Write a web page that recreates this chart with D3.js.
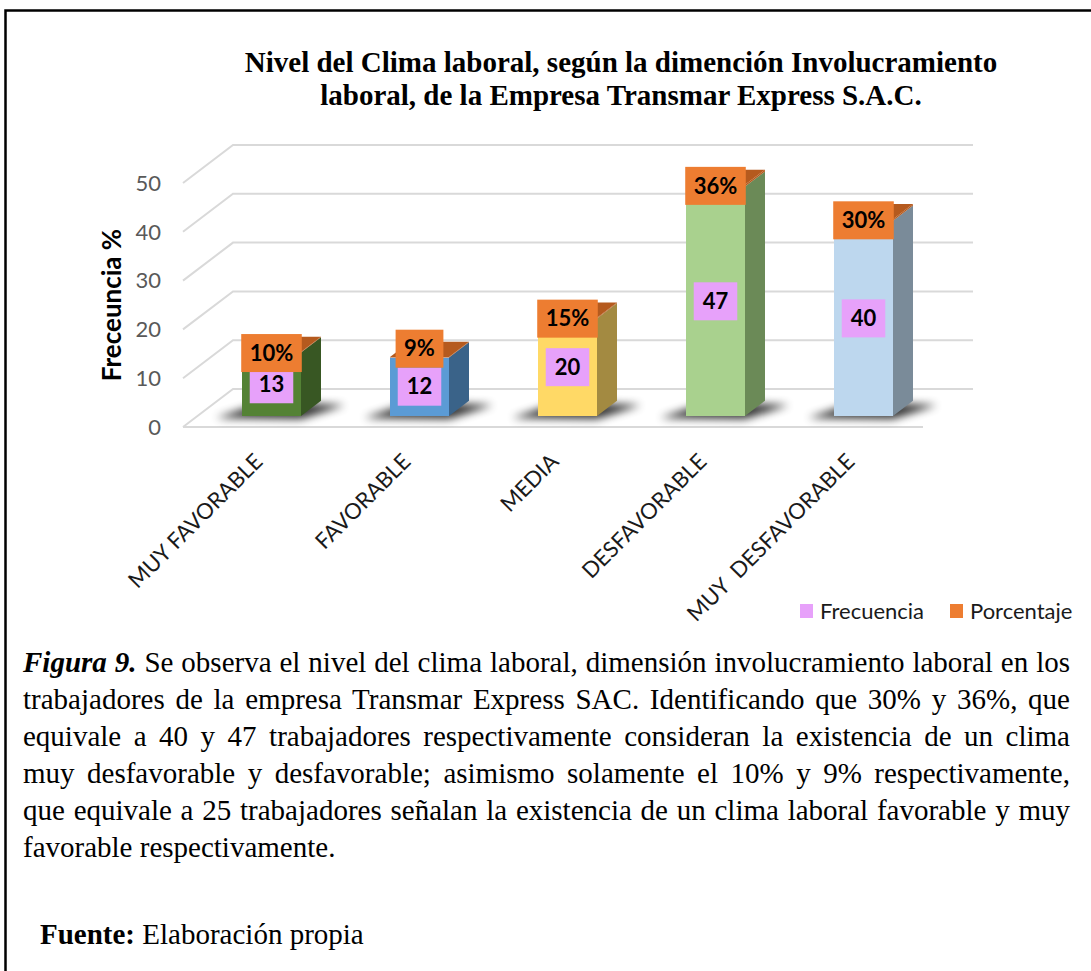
<!DOCTYPE html>
<html>
<head>
<meta charset="utf-8">
<script src="https://cdn.jsdelivr.net/npm/d3@7/dist/d3.min.js"></script>
<style>
  html, body { margin:0; padding:0; background:#fff; }
  #wrap { position:relative; width:1091px; height:971px; overflow:hidden; }
  svg { position:absolute; left:0; top:0; }
  .cap { position:absolute; left:23px; width:1047px; font-family:"Liberation Serif","Times New Roman",serif;
         font-size:29px; line-height:37px; height:37px; color:#000; text-align:justify; text-align-last:justify; white-space:normal; }
  .cap.last { text-align-last:left; }
</style>
</head>
<body>
<div id="wrap"></div>
<script>
// ---------- DATA ----------
const categories = ["MUY FAVORABLE", "FAVORABLE", "MEDIA", "DESFAVORABLE", "MUY  DESFAVORABLE"];
const frecuencia = [13, 12, 20, 47, 40];
const porcentaje = [10, 9, 15, 36, 30];
const yTicks = [0, 10, 20, 30, 40, 50];
const seriesNames = ["Frecuencia", "Porcentaje"];
const titleLines = ["Nivel del Clima laboral, según la dimención Involucramiento",
                    "laboral, de la Empresa Transmar Express S.A.C."];
const yAxisTitle = "Freceuncia %";
const captionLines = [
  "Se observa el nivel del clima laboral, dimensión involucramiento laboral en los",
  "trabajadores de la empresa Transmar Express SAC. Identificando que 30% y 36%, que",
  "equivale a 40 y 47 trabajadores respectivamente consideran la existencia de un clima",
  "muy desfavorable y desfavorable; asimismo solamente el 10% y 9% respectivamente,",
  "que equivale a 25 trabajadores señalan la existencia de un clima laboral favorable y muy",
  "favorable respectivamente."
];
const captionLead = "Figura 9.";
const sourceLead = "Fuente:";
const sourceText = "Elaboración propia";

// ---------- STYLE ----------
const frontColors = ["#548235", "#5B9BD5", "#FFD966", "#A9D18E", "#BDD7EE"];
const sideColors  = ["#385723", "#3A6389", "#A38A41", "#6B8A57", "#7A8B99"];
const pink = "#E7A1FA", orange = "#ED7D31", orangeDark = "#B55A1E";
const sans = "Lato, 'Open Sans', sans-serif";

const W = 1091, H = 971;
const wrap = d3.select("#wrap");
const svg = wrap.append("svg").attr("width", W).attr("height", H);

// border
svg.append("rect").attr("x", 5.5).attr("y", 10.5).attr("width", 1200).attr("height", 1200)
  .attr("fill", "none").attr("stroke", "#000").attr("stroke-width", 2.5);

// title
svg.append("g").selectAll("text").data(titleLines).join("text")
  .attr("x", 621).attr("y", (d, i) => 72 + i * 33)
  .attr("text-anchor", "middle")
  .attr("font-family", "'Liberation Serif','Times New Roman',serif")
  .attr("font-weight", "bold").attr("font-size", 29)
  .text(d => d);

// ---------- 3D geometry ----------
const depthX = 50, depthY = -38;          // back wall offset
const y = d3.scaleLinear().domain([0, 50]).range([427, 183]);
const x = d3.scaleBand().domain(categories).range([183, 923]);
const f0 = 0.29, f1 = 0.69;               // bar front/back depth fraction
const barW = 59;
const P = (px, v, f) => [px + depthX * f, y(v) + depthY * f];
const poly = pts => pts.map(p => p.join(",")).join(" ");

const defs = svg.append("defs");
defs.append("filter").attr("id", "blur").attr("x", "-50%").attr("y", "-100%").attr("width", "200%").attr("height", "300%")
  .append("feGaussianBlur").attr("stdDeviation", 4);

// gridlines
const grid = svg.append("g").attr("stroke", "#D9D9D9").attr("stroke-width", 2).attr("fill", "none");
yTicks.forEach(t => {
  grid.append("polyline").attr("points", poly([P(183, t, 0), P(183, t, 1), P(923, t, 1)]));
});
grid.append("line").attr("x1", 183).attr("y1", y(0)).attr("x2", 923).attr("y2", y(0));

// y tick labels
svg.append("g").selectAll("text").data(yTicks).join("text")
  .attr("x", 161).attr("y", d => y(d)).attr("dy", "0.35em")
  .attr("text-anchor", "end").attr("font-family", sans).attr("font-size", 22)
  .attr("fill", "#595959").text(d => d);

// y axis title
svg.append("text").attr("transform", "translate(121,305) rotate(-90)")
  .attr("text-anchor", "middle").attr("font-family", sans).attr("font-weight", "bold")
  .attr("font-size", 26).attr("fill", "#000").text(yAxisTitle);

// bars
const bars = svg.append("g");
categories.forEach((c, i) => {
  const bc = x(c) + x.bandwidth() / 2;
  const xl = bc - barW / 2, xr = bc + barW / 2;
  const v = frecuencia[i];
  const vt = v + porcentaje[i] / 100;     // percentage series stacked as a fraction
  const g = bars.append("g");
  // shadow
  const b0 = P(xl, 0, f0);
  g.append("polygon").attr("filter", "url(#blur)").attr("fill", "#000").attr("opacity", 0.8)
    .attr("points", poly([[b0[0] - 26, b0[1] + 2], [b0[0] + barW, b0[1] + 3],
                          [b0[0] + barW + 44, b0[1] - 11], [b0[0] + 22, b0[1] - 14]]));
  // frecuencia segment
  g.append("polygon").attr("fill", sideColors[i])
    .attr("points", poly([P(xr, 0, f0), P(xr, 0, f1), P(xr, v, f1), P(xr, v, f0)]));
  g.append("polygon").attr("fill", frontColors[i])
    .attr("points", poly([P(xl, 0, f0), P(xr, 0, f0), P(xr, v, f0), P(xl, v, f0)]));
  // porcentaje segment (tiny)
  g.append("polygon").attr("fill", orangeDark)
    .attr("points", poly([P(xr, v, f0), P(xr, v, f1), P(xr, vt, f1), P(xr, vt, f0)]));
  g.append("polygon").attr("fill", orange)
    .attr("points", poly([P(xl, v, f0), P(xr, v, f0), P(xr, vt, f0), P(xl, vt, f0)]));
  g.append("polygon").attr("fill", orangeDark)
    .attr("points", poly([P(xl, vt, f0), P(xr, vt, f0), P(xr, vt, f1), P(xl, vt, f1)]));
});

// data labels
function label(cx, cy, txt, fill, padX) {
  const g = svg.append("g");
  const r = g.append("rect").attr("fill", fill);
  const t = g.append("text").attr("x", cx).attr("y", cy).attr("dy", "0.35em")
    .attr("text-anchor", "middle").attr("font-family", sans).attr("font-weight", "bold")
    .attr("font-size", 22).attr("fill", "#000").text(txt);
  const w = t.node().getComputedTextLength() + padX * 2;
  r.attr("x", cx - w / 2).attr("y", cy - 19).attr("width", w).attr("height", 38);
  return {top: cy - 19, bottom: cy + 19};
}
const pinkBoxes = categories.map((c, i) => {
  const bc = x(c) + x.bandwidth() / 2;
  const v = frecuencia[i];
  const mid = P(bc, v / 2, f0);
  return label(mid[0], mid[1], String(v), pink, 9);
});
categories.forEach((c, i) => {
  const bc = x(c) + x.bandwidth() / 2;
  const top = P(bc, frecuencia[i] + porcentaje[i] / 100, f0);
  let cy = top[1] + 1;
  // avoid covering too much of the frequency label
  if (cy + 19 > pinkBoxes[i].top + 8) cy = pinkBoxes[i].top - 19;
  label(top[0], cy, porcentaje[i] + "%", orange, 8.5);
});

// category labels
svg.append("g").selectAll("text").data(categories).join("text")
  .attr("transform", d => `translate(${x(d) + x.bandwidth() / 2 + 7},463) rotate(-45)`)
  .attr("text-anchor", "end").attr("font-family", sans).attr("font-size", 22)
  .attr("fill", "#1a1a1a").style("white-space", "pre").text(d => d);

// legend
const legendColors = [pink, orange];
const legendX = [800, 950];
const lg = svg.append("g");
seriesNames.forEach((s, i) => {
  lg.append("rect").attr("x", legendX[i]).attr("y", 604).attr("width", 13).attr("height", 14).attr("fill", legendColors[i]);
  lg.append("text").attr("x", legendX[i] + 20).attr("y", 611).attr("dy", "0.35em")
    .attr("font-family", sans).attr("font-size", 22).attr("fill", "#1a1a1a").text(s);
});

// caption
captionLines.forEach((line, i) => {
  const d = wrap.append("div").attr("class", "cap" + (i === captionLines.length - 1 ? " last" : ""))
    .style("top", (644 + i * 37) + "px");
  if (i === 0) {
    d.append("b").append("i").text(captionLead);
    d.append("span").text(" " + line);
  } else d.text(line);
});
const src = wrap.append("div").attr("class", "cap last").style("top", "916px").style("left", "40px");
src.append("b").text(sourceLead);
src.append("span").text(" " + sourceText);
</script>
</body>
</html>
